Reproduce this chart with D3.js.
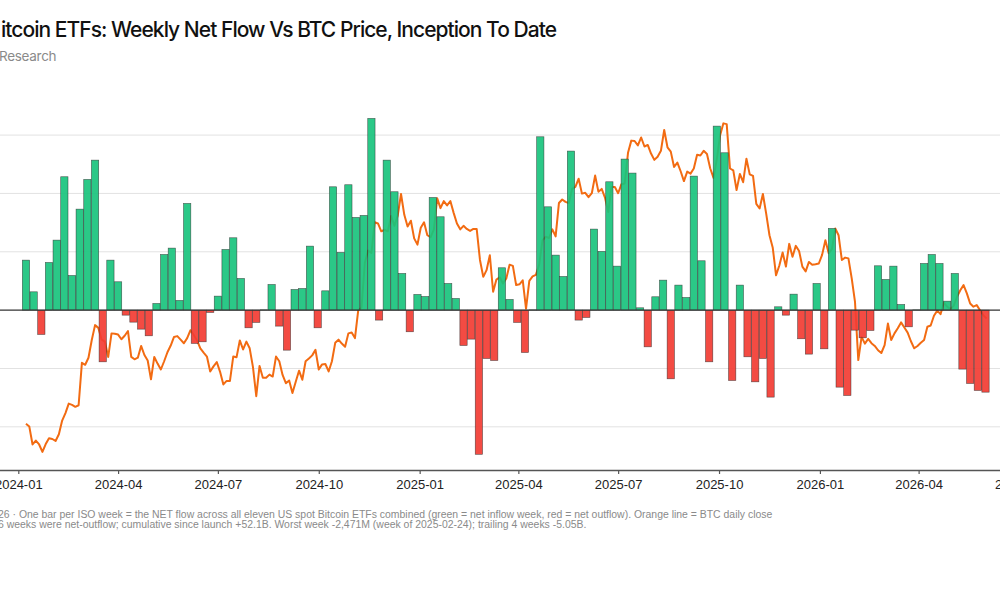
<!DOCTYPE html>
<html>
<head>
<meta charset="utf-8">
<script src="https://cdn.jsdelivr.net/npm/d3@7"></script>
<style>
  html, body { margin: 0; padding: 0; background: #fff; }
  svg { display: block; }
</style>
</head>
<body>
<div id="chart"></div>
<script>
// weekly net flow, $M, one value per ISO week starting Monday 2024-01-08
const firstWeek = "2024-01-08";
const weeklyFlowM = [
  857, 314, -417, 817, 1200, 2286, 594, 1731, 2240, 2571,
  -886, 857, 486, -86, -206, -326, -440, 114, 954, 1063,
  166, 1829, -571, -543, -40, 240, 1040, 1240, 543, -303,
  -211, 5, 440, -274, -686, 354, 371, 1097, -303, 331,
  2114, 989, 2149, 1589, 1623, 3286, -171, 2571, 2029, 629,
  -371, 269, 234, 1931, 1600, 457, 200, -606, -497, -2471,
  -829, -863, 726, 183, -211, -726, 5, 2971, 1771, 943,
  577, 2726, -171, -126, 1389, 1006, 2200, 754, 2589, 2349,
  40, -629, 229, 514, -1177, 429, 217, 2297, 846, -886,
  3154, 2697, -1206, 429, -800, -1229, -829, -1491, 57, -86,
  274, -491, -754, 457, -663, 1400, -1320, -1463, -343, -474,
  -349, 760, 526, 754, 97, -286, 5, 800, 954, 800,
  154, 629, -1011, -1257, -1377, -1406
];

// BTC close in $K, sampled every 3 days from 2024-01-08
const priceStart = "2024-01-08";
const priceStepDays = 3;
const btcCloseK = [
  // 2024
  47.0, 46.3, 41.7, 42.7, 41.7, 39.8, 41.8, 43.3,
  43.1, 42.6, 44.3, 47.8, 49.7, 52.1, 51.8, 51.3, 51.7, 62.5,
  62.0, 63.8, 68.3, 72.1, 71.4, 68.4, 67.9, 64.0, 70.0, 69.9,
  69.7, 68.5, 69.4, 70.6, 64.0, 63.4, 63.8, 66.8, 64.5, 63.1,
  58.3, 64.0, 62.3, 60.8, 62.9, 65.2, 66.9, 69.1, 69.3, 68.4, 67.5,
  68.8, 70.8, 69.6, 68.2, 66.2, 65.1, 64.1, 60.3, 61.6, 62.7,
  60.2, 57.0, 57.9, 57.9, 64.1, 63.9, 68.2, 65.9, 67.9, 66.2,
  61.4, 54.0, 61.7, 58.7, 58.7, 59.5, 59.0, 64.1, 62.9, 59.4,
  57.3, 58.0, 54.8, 57.7, 60.5, 58.2, 62.9, 63.6, 64.4, 65.8,
  60.8, 62.1, 62.2, 60.3, 62.9, 67.6, 68.4, 67.4, 66.6, 70.0, 70.2,
  68.8, 75.9, 76.6, 88.0, 91.1, 90.5, 98.3, 98.0, 96.0, 96.4,
  96.0, 99.9, 97.4, 100.0, 105.5, 100.2, 97.2, 98.7, 94.2, 92.6,
  // 2025
  96.9, 98.3, 95.0, 94.5, 96.5, 104.4, 101.9, 103.7, 102.6, 103.7,
  100.7, 98.0, 96.5, 97.4, 96.6, 96.1, 96.6, 96.6, 88.7, 84.4,
  86.1, 89.9, 80.6, 83.7, 84.3, 82.7, 84.0, 87.5, 87.2, 82.3,
  82.5, 83.5, 76.3, 83.4, 84.5, 84.9, 87.5, 93.7, 94.6, 94.3,
  96.5, 94.7, 103.2, 104.1, 103.5, 103.2, 106.8, 107.3, 109.4, 105.6,
  105.8, 104.7, 105.7, 110.2, 106.1, 106.8, 104.6, 100.9, 107.3, 107.3,
  105.7, 108.0, 108.2, 116.0, 119.1, 119.0, 117.9, 119.9, 117.6, 118.0, 115.8,
  114.2, 115.0, 116.5, 121.8, 117.4, 116.3, 112.4, 113.5, 111.3, 108.8,
  111.2, 110.7, 112.0, 115.5, 115.3, 116.5, 115.7, 112.0, 109.6, 114.4,
  120.5, 123.5, 123.3, 112.0, 111.5, 106.5, 110.6, 108.5, 114.5, 110.5,
  110.1, 103.0, 101.8, 105.5, 100.5, 95.0, 91.8, 84.8, 87.3, 90.6,
  87.0, 92.8, 89.5, 92.3, 91.0, 87.0, 85.8, 88.2, 87.5, 87.6, 87.8,
  // 2026
  90.0, 93.7, 90.4, 91.5, 96.7, 95.0, 88.7, 89.3, 89.1, 84.0,
  78.0, 63.2, 69.1, 67.4, 68.6, 67.5, 66.8, 65.7, 65.0,
  67.0, 72.5, 68.3, 70.0, 71.3, 72.8, 71.5, 70.2, 68.0, 66.2, 66.8,
  67.6, 68.3, 71.7, 72.0, 74.5, 75.8, 74.9, 77.8, 76.8, 76.2,
  77.0, 79.3, 81.0, 82.3, 80.2, 77.6, 76.8, 77.2, 75.9, 74.6,
  73.8
];

const xTickDates = ["2024-01-01", "2024-04-01", "2024-07-01", "2024-10-01",
  "2025-01-01", "2025-04-01", "2025-07-01", "2025-10-01",
  "2026-01-01", "2026-04-01", "2026-07-01"];
const flowGridM = [-2000, -1000, 1000, 2000, 3000];

const titleText = "Bitcoin ETFs: Weekly Net Flow Vs BTC Price, Inception To Date";
const subtitleText = "Research";
const noteLines = [
  "26 · One bar per ISO week = the NET flow across all eleven US spot Bitcoin ETFs combined (green = net inflow week, red = net outflow). Orange line = BTC daily close",
  "6 weeks were net-outflow; cumulative since launch +52.1B. Worst week -2,471M (week of 2025-02-24); trailing 4 weeks -5.05B."
];

const width = 1000, height = 600;
const plot = {top: 110, bottom: 470, left: -2, right: 1002};
const parse = d3.utcParse("%Y-%m-%d");
const DAY = 864e5;

const weeks = weeklyFlowM.map((v, i) => ({date: new Date(+parse(firstWeek) + i * 7 * DAY), v}));
const prices = btcCloseK.map((v, i) => ({date: new Date(+parse(priceStart) + i * priceStepDays * DAY), v}));

const svg = d3.select("#chart").append("svg")
    .attr("width", width)
    .attr("height", height);

// time axis anchored on the quarter ticks, then widened to the plot edges
const x = d3.scaleUtc()
    .domain([parse("2024-01-01"), parse("2026-07-01")])
    .range([18.3, 1018.4]);
x.domain([x.invert(plot.left), x.invert(plot.right)]).range([plot.left, plot.right]);

const yFlow = d3.scaleLinear().domain([-2740, 3430]).range([plot.bottom, plot.top]);
const yPrice = d3.scaleLinear().domain([35.2, 126.9]).range([plot.bottom, plot.top]);

// grid
svg.append("g").selectAll("line")
    .data(flowGridM)
    .enter().append("line")
    .attr("x1", plot.left).attr("x2", plot.right)
    .attr("y1", d => yFlow(d)).attr("y2", d => yFlow(d))
    .attr("stroke", "#e2e2e2")
    .attr("stroke-width", 1);

// price line sits under the bars
svg.append("path")
    .datum(prices)
    .attr("fill", "none")
    .attr("stroke", "#f26b12")
    .attr("stroke-width", 2)
    .attr("stroke-linejoin", "round")
    .attr("d", d3.line().x(d => x(d.date)).y(d => yPrice(d.v)));

const barW = (x(new Date(7 * DAY)) - x(new Date(0))) * 0.95;

svg.append("g").selectAll("rect")
    .data(weeks)
    .enter().append("rect")
    .attr("x", d => x(d.date) - barW / 2)
    .attr("width", barW)
    .attr("y", d => yFlow(Math.max(0, d.v)))
    .attr("height", d => Math.abs(yFlow(d.v) - yFlow(0)))
    .attr("fill", d => d.v >= 0 ? "#19c37d" : "#f23c33")
    .attr("fill-opacity", 0.92)
    .attr("stroke", "#2b2b2b")
    .attr("stroke-opacity", 0.75)
    .attr("stroke-width", 0.6);

// zero line
svg.append("line")
    .attr("x1", plot.left).attr("x2", plot.right)
    .attr("y1", yFlow(0)).attr("y2", yFlow(0))
    .attr("stroke", "#333")
    .attr("stroke-width", 1.3);

// x axis
const xAxis = svg.append("g")
    .attr("transform", `translate(0,${plot.bottom})`)
    .call(d3.axisBottom(x)
        .tickValues(xTickDates.map(parse))
        .tickFormat(d3.utcFormat("%Y-%m"))
        .tickSize(4)
        .tickSizeOuter(0)
        .tickPadding(6));
xAxis.select(".domain").attr("stroke", "#555").attr("stroke-width", 1.6);
xAxis.selectAll(".tick line").attr("stroke", "#555").attr("stroke-width", 1.2);
xAxis.selectAll("text")
    .style("font-family", "'Liberation Sans', Arial, sans-serif")
    .style("font-size", "13px")
    .style("fill", "#222");

// title: the page is cropped so the leading "B" sits just left of the frame
const titleG = svg.append("g")
    .style("font-family", "Inter, 'Open Sans', sans-serif")
    .style("font-size", "21px")
    .style("font-weight", 500)
    .style("fill", "#111");
titleG.append("text")
    .attr("x", 0)
    .attr("y", 37)
    .attr("text-anchor", "end")
    .text(titleText.charAt(0));
titleG.append("text")
    .attr("x", 1)
    .attr("y", 37)
    .attr("textLength", 556)
    .attr("lengthAdjust", "spacing")
    .text(titleText.slice(1));

svg.append("text")
    .attr("x", -1)
    .attr("y", 61)
    .style("font-family", "Inter, 'Open Sans', sans-serif")
    .style("font-size", "13.5px")
    .style("letter-spacing", "-0.3px")
    .style("fill", "#8a8a8a")
    .text(subtitleText);

svg.append("g").selectAll("text")
    .data(noteLines)
    .enter().append("text")
    .attr("x", -2)
    .attr("y", (d, i) => 517.5 + i * 10.5)
    .style("font-family", "'Liberation Sans', Arial, sans-serif")
    .style("font-size", "10.45px")
    .style("fill", "#8a8a8a")
    .text(d => d);
</script>
</body>
</html>
